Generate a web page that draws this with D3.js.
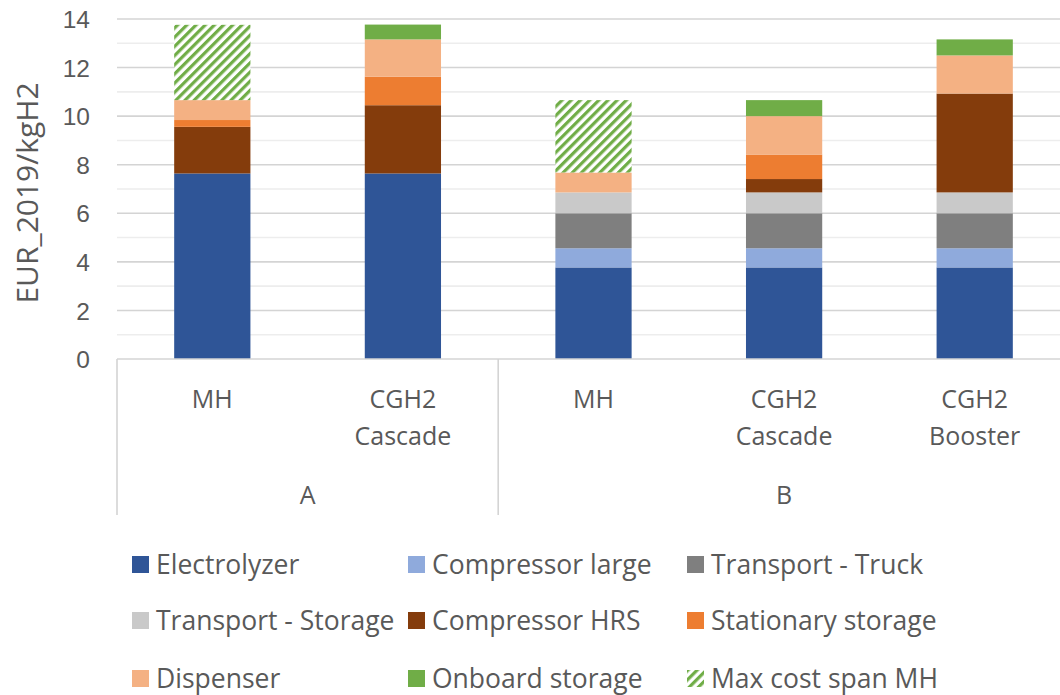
<!DOCTYPE html>
<html>
<head>
<meta charset="utf-8">
<script src="https://cdn.jsdelivr.net/npm/d3@7"></script>
<style>
  body { margin: 0; background: #fff; }
  svg { display: block; font-family: "Open Sans", "Liberation Sans", sans-serif; }
  .tick text { fill: #595959; }
</style>
</head>
<body>
<svg id="chart" width="1060" height="695"></svg>
<script>
// data
const groups = ["A", "A", "B", "B", "B"];
const categories = [["MH"], ["CGH2", "Cascade"], ["MH"], ["CGH2", "Cascade"], ["CGH2", "Booster"]];
const seriesNames = ["Electrolyzer", "Compressor large", "Transport - Truck", "Transport - Storage",
  "Compressor HRS", "Stationary storage", "Dispenser", "Onboard storage", "Max cost span MH"];
const seriesColors = ["#2f5597", "#8faadc", "#7f7f7f", "#c9c9c9",
  "#843c0c", "#ed7d31", "#f4b183", "#70ad47", "url(#hatch)"];

const electrolyzer      = [7.64, 7.64, 3.77, 3.77, 3.77];
const compressorLarge   = [0, 0, 0.79, 0.79, 0.79];
const transportTruck    = [0, 0, 1.44, 1.44, 1.44];
const transportStorage  = [0, 0, 0.86, 0.86, 0.86];
const compressorHRS     = [1.92, 2.81, 0, 0.55, 4.07];
const stationaryStorage = [0.28, 1.17, 0, 1.01, 0];
const dispenser         = [0.82, 1.54, 0.82, 1.58, 1.57];
const onboardStorage    = [0, 0.61, 0, 0.66, 0.66];
const maxCostSpanMH     = [3.1, 0, 2.98, 0, 0];

const seriesValues = [electrolyzer, compressorLarge, transportTruck, transportStorage,
  compressorHRS, stationaryStorage, dispenser, onboardStorage, maxCostSpanMH];

const yTicks = [0, 2, 4, 6, 8, 10, 12, 14];

var svg = d3.select("#chart");
var margin = { left: 117, right: -10, top: 19, bottom: 336 };
var width = 1060 - margin.left - margin.right;
var plotH = 695 - margin.top - margin.bottom;

var defs = svg.append("defs");
var pat = defs.append("pattern")
  .attr("id", "hatch")
  .attr("patternUnits", "userSpaceOnUse")
  .attr("width", 6.5).attr("height", 6.5)
  .attr("patternTransform", "rotate(45)");
pat.append("rect").attr("width", 6.5).attr("height", 6.5).attr("fill", "#fff");
pat.append("rect").attr("width", 3.2).attr("height", 6.5).attr("fill", "#70ad47");

var g = svg.append("g").attr("transform", `translate(${margin.left},${margin.top})`);

var x = d3.scaleBand().domain(d3.range(categories.length)).range([0, width]).paddingInner(0.6).paddingOuter(0.3);
var y = d3.scaleLinear().domain([0, 14]).range([plotH, 0]);

// gridlines, every unit: even ones darker
g.append("g").selectAll("line")
  .data(d3.range(1, 15))
  .join("line")
  .attr("x1", 0).attr("x2", width)
  .attr("y1", d => y(d)).attr("y2", d => y(d))
  .attr("stroke", d => d % 2 === 0 ? "#d4d4d4" : "#ededed")
  .attr("stroke-width", 1.6);

// stacked bars
var stack = d3.stack().keys(d3.range(seriesNames.length)).value((d, k) => seriesValues[k][d]);
var layers = stack(d3.range(categories.length));

g.append("g").selectAll("g")
  .data(layers)
  .join("g")
  .attr("fill", (d, i) => seriesColors[i])
  .selectAll("rect")
  .data(d => d.map((p, j) => ({ p, j })))
  .join("rect")
  .attr("x", d => x(d.j))
  .attr("width", x.bandwidth())
  .attr("y", d => y(d.p[1]))
  .attr("height", d => Math.max(0, y(d.p[0]) - y(d.p[1])));

// y axis
var yAxis = g.append("g")
  .attr("transform", "translate(-27,0)")
  .call(d3.axisLeft(y).tickValues(yTicks).tickSize(0).tickPadding(0));
yAxis.select(".domain").remove();
yAxis.selectAll("text").style("font-size", "24.5px").attr("dy", "0.35em");

svg.append("text")
  .attr("transform", "translate(38,193) rotate(-90)")
  .attr("text-anchor", "middle")
  .attr("fill", "#595959")
  .style("font-size", "30px")
  .text("EUR_2019/kgH2");

// category axis baseline
g.append("line")
  .attr("x1", 0).attr("x2", width)
  .attr("y1", plotH).attr("y2", plotH)
  .attr("stroke", "#d4d4d4").attr("stroke-width", 1.6);

// category labels
var cat = g.append("g").selectAll("text")
  .data(categories)
  .join("text")
  .attr("text-anchor", "middle")
  .attr("fill", "#595959")
  .style("font-size", "25px")
  .attr("x", (d, i) => x(i) + x.bandwidth() / 2)
  .attr("y", plotH + 49);
cat.selectAll("tspan")
  .data(d => d)
  .join("tspan")
  .attr("x", function () { return this.parentNode.getAttribute("x"); })
  .attr("dy", (d, i) => i === 0 ? 0 : 37)
  .text(d => d);

// group labels and separators
var groupNames = Array.from(new Set(groups));
var step = x.step();
var groupSpans = groupNames.map(name => {
  var idx = groups.map((gr, i) => gr === name ? i : -1).filter(i => i >= 0);
  return { name, start: d3.min(idx) * step, end: (d3.max(idx) + 1) * step };
});

g.append("g").selectAll("text")
  .data(groupSpans)
  .join("text")
  .attr("text-anchor", "middle")
  .attr("fill", "#595959")
  .style("font-size", "25px")
  .attr("x", d => (d.start + d.end) / 2)
  .attr("y", plotH + 145)
  .text(d => d.name);

var edges = [0].concat(groupSpans.map(d => d.end));
g.append("g").selectAll("line")
  .data(edges)
  .join("line")
  .attr("x1", d => d).attr("x2", d => d)
  .attr("y1", plotH).attr("y2", plotH + 156)
  .attr("stroke", "#d4d4d4").attr("stroke-width", 1.6);

// legend
var legendCols = [132, 408, 687];
var legendRows = [564, 620, 678];
var legend = svg.append("g").selectAll("g")
  .data(seriesNames)
  .join("g")
  .attr("transform", (d, i) => `translate(${legendCols[i % 3]},${legendRows[Math.floor(i / 3)]})`);
legend.append("rect")
  .attr("x", 0).attr("y", -8)
  .attr("width", 17).attr("height", 17)
  .attr("fill", (d, i) => seriesColors[i]);
legend.append("text")
  .attr("x", 24).attr("dy", "0.36em")
  .attr("fill", "#595959")
  .style("font-size", "26.5px")
  .text(d => d);
</script>
</body>
</html>
